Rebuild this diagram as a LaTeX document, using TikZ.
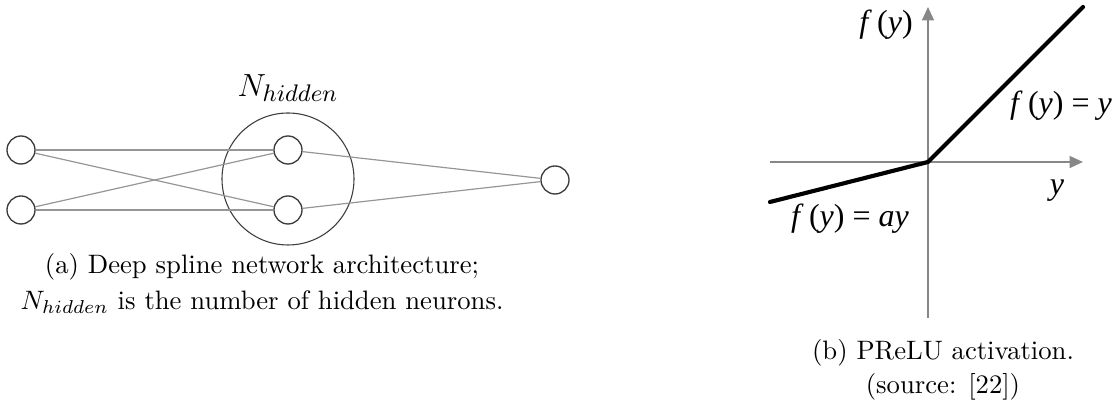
\documentclass[tikz,border=0pt]{standalone}
\usepackage{fontspec}
\usetikzlibrary{arrows.meta}
\newfontfamily\tnr{Liberation Serif}
\definecolor{axisgray}{RGB}{135,135,135}
\definecolor{edgegray}{RGB}{150,150,150}
\definecolor{neurondark}{RGB}{60,60,60}
\tikzset{
  neuron/.style={circle,draw=neurondark,line width=0.5pt,inner sep=0pt,minimum size=10.5pt},
  groupcirc/.style={circle,draw=neurondark,line width=0.4pt,inner sep=0pt,minimum size=49.5pt},
  edge/.style={draw=edgegray,line width=0.45pt},
  axis/.style={draw=axisgray,line width=0.8pt,-{Triangle[length=5pt,width=4.4pt]}},
  relu/.style={draw=black,line width=1.55pt,line cap=round},
  plotlab/.style={inner sep=0pt,font=\tnr\fontsize{12}{14}\selectfont},
  caplab/.style={align=center,inner sep=0pt,font=\normalsize}
}
\begin{document}
\begin{tikzpicture}[x=0.375pt,y=-0.375pt]
\useasboundingbox (0,0) rectangle (1116,418);
% left: network
\node[groupcirc] (grp) at (288,179) {};
\node[neuron] (i1) at (21,150) {};
\node[neuron] (i2) at (21,210) {};
\node[neuron] (h1) at (288,150) {};
\node[neuron] (h2) at (288,210) {};
\node[neuron] (o) at (555,180) {};
\node[inner sep=0pt,font=\fontsize{13}{15}\selectfont] (nh) at (288,88) {$N_{hidden}$};
\draw[edge] (i1) -- (h1);
\draw[edge] (i1) -- (h2);
\draw[edge] (i2) -- (h1);
\draw[edge] (i2) -- (h2);
\draw[edge] (h1) -- (o);
\draw[edge] (h2) -- (o);
\node[caplab] (capa) at (262,284) {(a) Deep spline network architecture;\\[1.5pt]$N_{hidden}$ is the number of hidden neurons.};
% right: PReLU
\coordinate (O) at (928,162);
\coordinate (xs) at (770,162);
\coordinate (xe) at (1083,162);
\coordinate (ys) at (928,318);
\coordinate (ye) at (928,7);
\coordinate (L) at (770,202);
\coordinate (R) at (1083,7);
\draw[axis] (xs) -- (xe);
\draw[axis] (ys) -- (ye);
\draw[relu] (L) -- (O) -- (R);
\node[plotlab] (fy) at (886,25) {\textit{f}\,(\textit{y})};
\node[plotlab] (fyy) at (1061,106) {\textit{f}\,(\textit{y}) = \textit{y}};
\node[plotlab] (yl) at (1057,191) {\textit{y}};
\node[plotlab] (fay) at (850,219) {\textit{f}\,(\textit{y}) = \textit{ay}};
\node[caplab] (capb) at (943,370) {(b) PReLU activation.\\[1pt](source: [22])};
\end{tikzpicture}
\end{document}
